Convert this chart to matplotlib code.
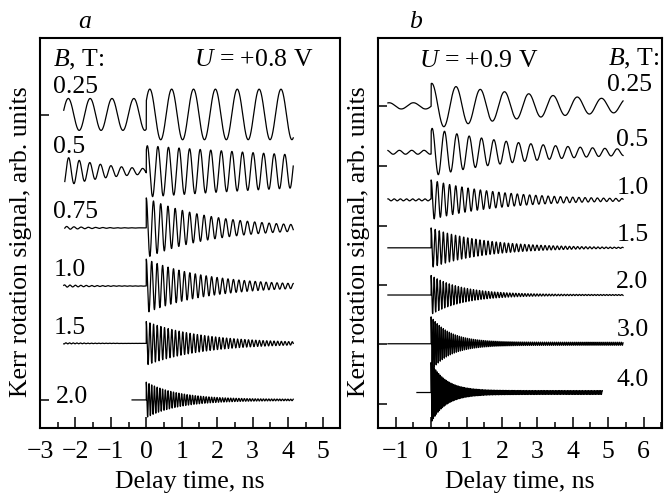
import numpy as np
import matplotlib
matplotlib.use("Agg")
import matplotlib.pyplot as plt
from matplotlib.ticker import MultipleLocator

plt.rcParams["font.family"] = ["Liberation Serif", "DejaVu Serif"]
plt.rcParams["mathtext.fontset"] = "custom"
plt.rcParams["mathtext.rm"] = "Liberation Serif"
plt.rcParams["mathtext.it"] = "Liberation Serif:italic"
FS = 18.5

# ---------------- PANEL a, U = +0.8 V ----------------
fields_a = ["0.25", "0.5", "0.75", "1.0", "1.5", "2.0"]
offset_a = [8.04, 6.58, 5.13, 3.64, 2.17, 0.72]     # baseline, arb. units
freq_a = [1.62, 3.35, 4.9, 6.5, 9.7, 13.0]          # precession frequency, GHz
amp_a = [0.65, 0.66, 0.77, 0.69, 0.56, 0.44]        # amplitude right after t = 0
tau_a = [1000.0, 9.5, 1.9, 1.75, 1.6, 0.9]          # decay time, ns
peak_a = [0.10, 0.03, 0.0, 0.0, 0.0, 0.0]           # first maximum, ns
tail_a = [0.0, 0.0, 0.0, 0.0, 0.0, 0.015]
pre_amp_a = [0.41, 0.38, 0.04, 0.03, 0.015, 0.0]    # signal at negative delay
pre_tau_a = [1000.0, 1.37, 0.8, 1.0, 1.0, 1.0]
pre_peak_a = [-0.35, -0.1, 0.0, 0.0, 0.0, 0.0]
start_a = [-2.33, -2.3, -2.3, -2.33, -2.33, -0.4]
stop_a = [4.15, 4.15, 4.15, 4.15, 4.15, 4.15]
yticks_a = [0.72, 8.03]

# ---------------- PANEL b, U = +0.9 V ----------------
fields_b = ["0.25", "0.5", "1.0", "1.5", "2.0", "3.0", "4.0"]
offset_b = [8.26, 7.07, 5.85, 4.62, 3.41, 2.16, 0.91]
freq_b = [1.46, 2.87, 5.75, 8.7, 11.7, 17.5, 23.4]
amp_b = [0.58, 0.62, 0.51, 0.51, 0.49, 0.65, 0.72]
tau_b = [4.4, 2.7, 2.0, 1.5, 0.9, 0.55, 0.42]
peak_b = [0.02, 0.03, 0.0, 0.0, 0.0, 0.0, 0.0]
tail_b = [0.0, 0.0, 0.0, 0.0, 0.01, 0.04, 0.05]
pre_amp_b = [0.08, 0.05, 0.025, 0.0, 0.0, 0.0, 0.0]
pre_tau_b = [1000.0, 1000.0, 1000.0, 1.0, 1.0, 1.0, 1.0]
pre_peak_b = [-0.5, -0.2, 0.0, 0.0, 0.0, 0.0, 0.0]
start_b = [-1.22, -1.22, -1.22, -1.22, -1.22, -1.22, -0.4]
stop_b = [5.42, 5.42, 5.42, 5.42, 5.42, 5.42, 4.83]
yticks_b = [0.62, 2.15, 3.67, 5.19, 6.72, 8.25]


def kerr_trace(i, offset, freq, amp, tau, peak, tail, pre_amp, pre_tau, pre_peak, start, stop):
    t = np.linspace(start[i], stop[i], 16000)
    w = 2 * np.pi * freq[i]
    post = (amp[i] * np.exp(-np.clip(t, 0, None) / tau[i]) + tail[i]) * np.cos(w * (t - peak[i]))
    pre = pre_amp[i] * np.exp(-(t - start[i]) / pre_tau[i]) * np.cos(w * (t - pre_peak[i]))
    return t, offset[i] + np.where(t >= 0, post, pre)


def style_axes(ax, xlim, yticks):
    ax.set_xlim(*xlim)
    ax.set_ylim(0, 10)
    ax.xaxis.set_major_locator(MultipleLocator(1))
    ax.xaxis.set_minor_locator(MultipleLocator(0.5))
    ax.set_yticks(yticks)
    ax.set_yticklabels([])
    ax.tick_params(axis="x", which="major", direction="in", length=8, width=1.1,
                   labelsize=FS, pad=9)
    ax.tick_params(axis="x", which="minor", direction="in", length=4.5, width=1.1)
    ax.tick_params(axis="y", direction="in", length=6.5, width=1.1)
    for s in ax.spines.values():
        s.set_linewidth(1.5)
    ax.set_xlabel("Delay time, ns", fontsize=FS, labelpad=6)
    ax.set_ylabel("Kerr rotation signal, arb. units", fontsize=FS)


fig = plt.figure(figsize=(6.67, 4.95), dpi=100)
ax_a = fig.add_axes([40 / 667, 67 / 495, 300 / 667, 390 / 495])
ax_b = fig.add_axes([378 / 667, 67 / 495, 284 / 667, 390 / 495])

# ---------------- PLOT ----------------
for i in range(len(fields_a)):
    t, y = kerr_trace(i, offset_a, freq_a, amp_a, tau_a, peak_a, tail_a,
                      pre_amp_a, pre_tau_a, pre_peak_a, start_a, stop_a)
    ax_a.plot(t, y, color="black", lw=0.9)

for i in range(len(fields_b)):
    t, y = kerr_trace(i, offset_b, freq_b, amp_b, tau_b, peak_b, tail_b,
                      pre_amp_b, pre_tau_b, pre_peak_b, start_b, stop_b)
    ax_b.plot(t, y, color="black", lw=0.9)

style_axes(ax_a, (-3, 5.47), yticks_a)
style_axes(ax_b, (-1.5, 6.52), yticks_b)
ax_a.yaxis.set_label_coords(-0.027, 0.478)
ax_b.yaxis.set_label_coords(-0.028, 0.478)

# ---------------- LABELS ----------------
label_y_a = [8.74, 7.2, 5.54, 4.05, 2.56, 0.79]
label_x_a = [-2.62, -2.62, -2.62, -2.62, -2.62, -2.55]
ax_a.text(-2.64, 9.44, r"$B$, T:", fontsize=FS, va="center", ha="left")
ax_a.text(4.71, 9.44, r"$U$ = +0.8 V", fontsize=FS, va="center", ha="right")
for lab, x, y in zip(fields_a, label_x_a, label_y_a):
    ax_a.text(x, y, lab, fontsize=FS, va="center", ha="left")

label_y_b = [8.8, 7.38, 6.15, 4.95, 3.74, 2.51, 1.23]
label_x_b = [4.97, 5.23, 5.23, 5.23, 5.23, 5.23, 5.23]
ax_b.text(4.99, 9.47, r"$B$, T:", fontsize=FS, va="center", ha="left")
ax_b.text(1.34, 9.4, r"$U$ = +0.9 V", fontsize=FS, va="center", ha="center")
for lab, x, y in zip(fields_b, label_x_b, label_y_b):
    ax_b.text(x, y, lab, fontsize=FS, va="center", ha="left")

fig.text(85 / 667, 1 - 22 / 495, "a", fontsize=FS, style="italic", ha="center", va="center")
fig.text(415 / 667, 1 - 22 / 495, "b", fontsize=FS, style="italic", ha="center", va="center")

fig.savefig("out.png", dpi=100)
plt.close(fig)
